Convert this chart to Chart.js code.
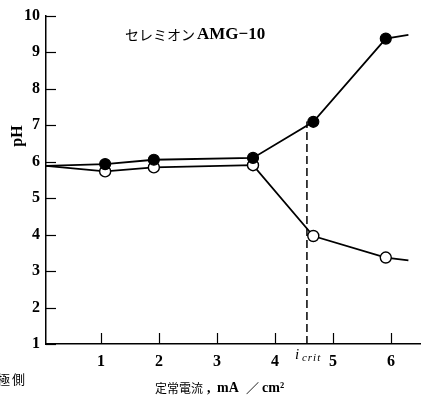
<!DOCTYPE html>
<html>
<head>
<meta charset="utf-8">
<script src="https://cdn.jsdelivr.net/npm/chart.js@4/dist/chart.umd.min.js"></script>
<style>
html,body{margin:0;padding:0;background:#fff;}
#wrap{width:422px;height:401px;position:relative;}
</style>
</head>
<body>
<div id="wrap"><canvas id="c" width="422" height="401"></canvas></div>
<script>
// Data
const currents   = [0.05, 1.07, 1.91, 3.62, 4.66, 5.91, 6.30];
const filledPH   = [5.88, 5.93, 6.05, 6.10, 7.09, 9.37, 9.47];
const openPH     = [5.88, 5.73, 5.84, 5.90, 3.96, 3.37, 3.29];
const markerSize = [0, 5.5, 5.5, 5.5, 5.5, 5.5, 0];
const iCrit = 4.55;
const iCritLine = [1, 7.1];
const xTicks = [1, 2, 3, 4, 5, 6];
const yMin = 1, yMax = 10;
const xMin = 0.05, xMax = 6.5;

const toXY = (xs, ys) => xs.map((x, i) => ({x: x, y: ys[i]}));

const textPlugin = {
  id: 'extras',
  afterDraw(chart) {
    const ctx = chart.ctx;
    const xs = chart.scales.x, ys = chart.scales.y;
    const area = chart.chartArea;
    ctx.save();
    ctx.strokeStyle = '#000';
    ctx.lineWidth = 1.2;
    // inward ticks on y axis
    for (let v = yMin; v <= yMax; v++) {
      const py = Math.round(ys.getPixelForValue(v)) + 0.5;
      ctx.beginPath(); ctx.moveTo(area.left, py); ctx.lineTo(area.left + 10, py); ctx.stroke();
    }
    // inward ticks on x axis
    xTicks.forEach(v => {
      const px = Math.round(xs.getPixelForValue(v)) + 0.5;
      ctx.beginPath(); ctx.moveTo(px, area.bottom); ctx.lineTo(px, area.bottom - 11); ctx.stroke();
    });
    ctx.fillStyle = '#000';
    ctx.textBaseline = 'middle';
    // annotation
    ctx.textAlign = 'left';
    ctx.font = '14px "Noto Sans CJK JP"';
    ctx.fillText('セレミオン', 125, 35);
    ctx.font = 'bold 17px "Liberation Serif"';
    ctx.fillText('AMG−10', 197, 35);
    // y title
    ctx.save();
    ctx.translate(18, 136);
    ctx.rotate(-Math.PI / 2);
    ctx.textAlign = 'center';
    ctx.font = 'bold 16px "Liberation Serif"';
    ctx.fillText('pH', 0, 0);
    ctx.restore();
    // i_crit label
    const cx = xs.getPixelForValue(iCrit);
    ctx.textAlign = 'left';
    ctx.font = 'italic 15px "Liberation Serif"';
    ctx.fillText('i', cx - 12, 355);
    ctx.font = 'italic 11px "Liberation Serif"';
    ctx.letterSpacing = '1px';
    ctx.fillText('crit', cx - 5, 358);
    ctx.letterSpacing = '0px';
    // x title
    ctx.font = '12px "Noto Sans CJK JP"';
    ctx.fillText('定常電流', 155, 388);
    ctx.font = 'bold 14px "Liberation Serif"';
    ctx.fillText(',', 207, 388);
    ctx.fillText('mA', 217, 388);
    ctx.font = '13px "Noto Sans CJK JP"';
    ctx.fillText('／', 246, 388);
    ctx.font = 'bold 14px "Liberation Serif"';
    ctx.fillText('cm²', 262, 388);
    // cut-off side label
    ctx.font = '13px "Noto Sans CJK JP"';
    ctx.textAlign = 'right';
    ctx.fillText('側', 25, 379);
    ctx.fillText('陰極', 10, 379);
    ctx.restore();
  }
};

new Chart(document.getElementById('c'), {
  type: 'line',
  data: {
    datasets: [
      {
        data: toXY([iCrit, iCrit], iCritLine),
        borderColor: '#000', borderWidth: 1.5, borderDash: [8, 4],
        pointRadius: 0, fill: false, tension: 0
      },
      {
        data: toXY(currents, filledPH),
        borderColor: '#000', borderWidth: 1.8,
        pointRadius: markerSize, pointBackgroundColor: '#000', pointBorderColor: '#000',
        pointBorderWidth: 1.2, fill: false, tension: 0
      },
      {
        data: toXY(currents, openPH),
        borderColor: '#000', borderWidth: 1.8,
        pointRadius: markerSize, pointBackgroundColor: '#fff', pointBorderColor: '#000',
        pointBorderWidth: 1.4, fill: false, tension: 0
      }
    ]
  },
  options: {
    responsive: false,
    animation: false,
    layout: {padding: {top: 5, right: 2, left: 0, bottom: 0}},
    plugins: {legend: {display: false}, tooltip: {enabled: false}},
    scales: {
      x: {
        type: 'linear', min: xMin, max: xMax,
        afterBuildTicks: s => { s.ticks = xTicks.map(v => ({value: v})); },
        afterFit: s => { s.height = 57; },
        grid: {display: false, drawTicks: false},
        border: {display: true, color: '#000', width: 1.5},
        ticks: {color: '#000', padding: 8, font: {family: 'Liberation Serif', size: 16, weight: 'bold'}}
      },
      y: {
        type: 'linear', min: yMin, max: yMax,
        afterFit: s => { s.width = 46; },
        grid: {display: false, drawTicks: false},
        border: {display: true, color: '#000', width: 1.5},
        ticks: {stepSize: 1, color: '#000', padding: 6, font: {family: 'Liberation Serif', size: 16, weight: 'bold'}}
      }
    }
  },
  plugins: [textPlugin]
});
</script>
</body>
</html>
